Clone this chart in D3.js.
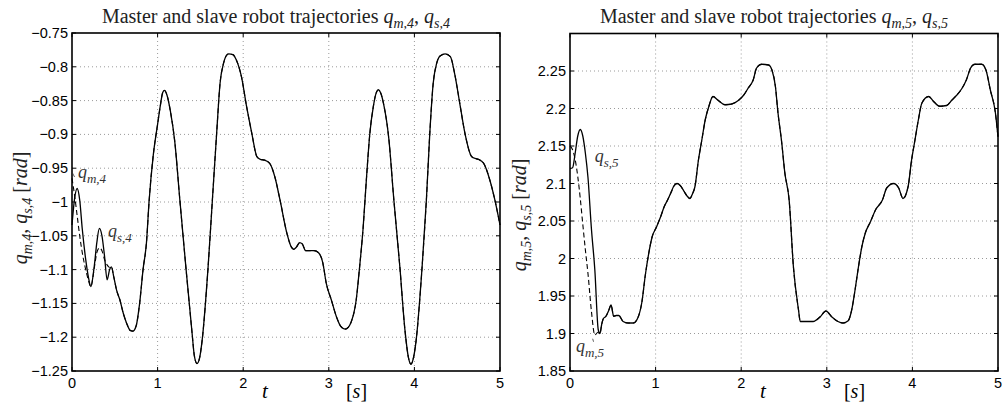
<!DOCTYPE html>
<html>
<head>
<meta charset="utf-8">
<script src="https://cdn.jsdelivr.net/npm/d3@7"></script>
<style>
body{margin:0;background:#fff;}
svg{display:block;}
</style>
</head>
<body>
<svg id="chart" width="1004" height="403"></svg>
<script>
// Joint 4: time [s], slave (solid) and master (dashed) trajectories [rad]
var t4 = [0,0.03,0.06,0.09,0.12,0.16,0.19,0.22,0.26,0.29,0.32,0.35,0.38,0.41,0.44,0.46,0.49,0.52,0.56,0.60,
  0.64,0.68,0.71,0.75,0.79,0.83,0.87,0.90,0.95,1.00,1.03,1.06,1.08,1.11,1.15,1.20,1.26,1.33,1.40,1.43,1.46,
  1.49,1.52,1.59,1.64,1.69,1.73,1.77,1.80,1.83,1.88,1.92,1.98,2.04,2.10,2.16,2.20,2.25,2.31,2.37,2.43,
  2.51,2.56,2.59,2.62,2.66,2.69,2.73,2.78,2.83,2.88,2.93,2.97,3.03,3.09,3.14,3.19,3.23,3.26,3.32,3.36,
  3.40,3.44,3.48,3.52,3.55,3.58,3.61,3.64,3.70,3.76,3.83,3.89,3.93,3.96,3.99,4.02,4.09,4.14,4.18,4.22,
  4.26,4.30,4.36,4.42,4.47,4.53,4.59,4.67,4.72,4.75,4.81,4.88,4.94,5.00];
var qs4 = [-1.034,-0.995,-0.980,-0.997,-1.040,-1.085,-1.110,-1.125,-1.095,-1.060,-1.039,-1.050,-1.080,-1.115,-1.100,-1.096,-1.112,-1.130,-1.145,-1.165,
  -1.180,-1.190,-1.191,-1.183,-1.150,-1.100,-1.060,-1.000,-0.930,-0.885,-0.859,-0.838,-0.835,-0.842,-0.866,-0.910,-0.997,-1.096,-1.190,-1.228,-1.239,
  -1.231,-1.205,-1.096,-0.997,-0.898,-0.824,-0.795,-0.784,-0.781,-0.782,-0.790,-0.815,-0.859,-0.898,-0.933,-0.937,-0.938,-0.943,-0.963,-0.997,
  -1.046,-1.066,-1.070,-1.067,-1.060,-1.062,-1.072,-1.072,-1.072,-1.075,-1.090,-1.120,-1.145,-1.170,-1.184,-1.188,-1.185,-1.178,-1.145,-1.096,
  -1.040,-0.965,-0.898,-0.859,-0.840,-0.834,-0.840,-0.855,-0.905,-0.997,-1.096,-1.190,-1.230,-1.240,-1.230,-1.205,-1.096,-0.997,-0.898,-0.824,
  -0.795,-0.784,-0.781,-0.785,-0.810,-0.854,-0.898,-0.933,-0.936,-0.937,-0.943,-0.967,-0.997,-1.034];
var qm4 = [-0.965,-0.990,-1.020,-1.050,-1.075,-1.100,-1.115,-1.125,-1.098,-1.075,-1.068,-1.072,-1.085,-1.093,-1.097,-1.096,-1.112,-1.130,-1.145,-1.165,
  -1.180,-1.190,-1.191,-1.183,-1.150,-1.100,-1.060,-1.000,-0.930,-0.885,-0.859,-0.838,-0.835,-0.842,-0.866,-0.910,-0.997,-1.096,-1.190,-1.228,-1.239,
  -1.231,-1.205,-1.096,-0.997,-0.898,-0.824,-0.795,-0.784,-0.781,-0.782,-0.790,-0.815,-0.859,-0.898,-0.933,-0.937,-0.938,-0.943,-0.963,-0.997,
  -1.046,-1.066,-1.070,-1.067,-1.060,-1.062,-1.072,-1.072,-1.072,-1.075,-1.090,-1.120,-1.145,-1.170,-1.184,-1.188,-1.185,-1.178,-1.145,-1.096,
  -1.040,-0.965,-0.898,-0.859,-0.840,-0.834,-0.840,-0.855,-0.905,-0.997,-1.096,-1.190,-1.230,-1.240,-1.230,-1.205,-1.096,-0.997,-0.898,-0.824,
  -0.795,-0.784,-0.781,-0.785,-0.810,-0.854,-0.898,-0.933,-0.936,-0.937,-0.943,-0.967,-0.997,-1.034];

// Joint 5
var t5 = [0,0.03,0.06,0.09,0.12,0.15,0.18,0.21,0.25,0.29,0.33,0.35,0.37,0.39,0.42,0.45,0.48,0.51,0.54,0.57,
  0.62,0.68,0.74,0.80,0.84,0.88,0.92,0.96,1.01,1.06,1.10,1.14,1.18,1.21,1.25,1.29,1.33,1.37,1.40,1.43,
  1.46,1.50,1.54,1.58,1.62,1.67,1.73,1.81,1.89,1.97,2.03,2.08,2.14,2.18,2.24,2.32,2.36,2.40,2.43,2.47,
  2.51,2.56,2.61,2.67,2.69,2.76,2.84,2.92,2.99,3.06,3.13,3.19,3.25,3.29,3.33,3.37,3.41,3.45,3.51,3.57,
  3.65,3.70,3.78,3.84,3.89,3.95,3.99,4.03,4.07,4.11,4.19,4.25,4.32,4.40,4.46,4.52,4.58,4.63,4.68,4.73,
  4.81,4.86,4.91,4.97,5.00];
var qs5 = [2.120,2.121,2.140,2.163,2.172,2.163,2.140,2.108,2.040,1.985,1.905,1.900,1.912,1.920,1.923,1.930,1.938,1.923,1.924,1.924,
  1.916,1.914,1.914,1.923,1.942,1.978,2.007,2.029,2.042,2.056,2.069,2.078,2.088,2.096,2.100,2.097,2.090,2.083,2.080,2.086,
  2.096,2.131,2.158,2.185,2.202,2.216,2.211,2.205,2.206,2.211,2.218,2.227,2.238,2.254,2.259,2.258,2.251,2.229,2.194,2.158,
  2.114,2.078,1.989,1.931,1.916,1.916,1.916,1.922,1.930,1.922,1.916,1.914,1.917,1.931,1.958,1.989,2.016,2.034,2.049,2.065,
  2.078,2.094,2.100,2.094,2.080,2.096,2.131,2.158,2.185,2.207,2.216,2.209,2.203,2.204,2.211,2.218,2.227,2.238,2.254,2.259,
  2.259,2.251,2.225,2.194,2.162];
var qm5 = [2.150,2.145,2.132,2.110,2.080,2.045,2.011,1.980,1.930,1.898,1.902,1.900,1.912,1.920,1.923,1.930,1.938,1.923,1.924,1.924,
  1.916,1.914,1.914,1.923,1.942,1.978,2.007,2.029,2.042,2.056,2.069,2.078,2.088,2.096,2.100,2.097,2.090,2.083,2.080,2.086,
  2.096,2.131,2.158,2.185,2.202,2.216,2.211,2.205,2.206,2.211,2.218,2.227,2.238,2.254,2.259,2.258,2.251,2.229,2.194,2.158,
  2.114,2.078,1.989,1.931,1.916,1.916,1.916,1.922,1.930,1.922,1.916,1.914,1.917,1.931,1.958,1.989,2.016,2.034,2.049,2.065,
  2.078,2.094,2.100,2.094,2.080,2.096,2.131,2.158,2.185,2.207,2.216,2.209,2.203,2.204,2.211,2.218,2.227,2.238,2.254,2.259,
  2.259,2.251,2.225,2.194,2.162];

var xTicks = [0, 1, 2, 3, 4, 5];
var yTicks4 = [-1.25, -1.2, -1.15, -1.1, -1.05, -1, -0.95, -0.9, -0.85, -0.8, -0.75];
var yTicks5 = [1.85, 1.9, 1.95, 2, 2.05, 2.1, 2.15, 2.2, 2.25];

var svg = d3.select('#chart');
var serif = '"Liberation Serif", "DejaVu Serif", serif';
var sans = '"Liberation Sans", Arial, sans-serif';

function fmt(v){ return String(v).replace('-', '\u2212'); }

// writes pieces of text, some italic, some lowered as subscripts
function mathText(sel, parts, size){
    var sub = Math.round(size*0.7);
    var shift = Math.round(size*0.25);
    var back = 0;
    parts.forEach(function(p){
        var ts = sel.append('tspan').text(p.s);
        if(p.i) ts.style('font-style', 'italic');
        if(p.sub){
            ts.attr('dy', shift - back).style('font-size', sub + 'px');
            back = shift;
        } else {
            if(back) ts.attr('dy', -back);
            back = 0;
        }
    });
}

function drawPanel(cfg){
    var x = d3.scaleLinear().domain([0, 5]).range([cfg.left, cfg.right]);
    var y = d3.scaleLinear().domain(cfg.yDomain).range([cfg.bottom, cfg.top]);
    var g = svg.append('g');

    // grid
    g.selectAll('.gx').data(xTicks.slice(1, -1)).enter().append('line')
        .attr('x1', function(d){return x(d);}).attr('x2', function(d){return x(d);})
        .attr('y1', cfg.top).attr('y2', cfg.bottom)
        .style('stroke', '#9a9a9a').style('stroke-width', 1).style('stroke-dasharray', '1,3');
    g.selectAll('.gy').data(cfg.yTicks.filter(function(d){return y(d) > cfg.top + 1 && y(d) < cfg.bottom - 1;}))
        .enter().append('line')
        .attr('x1', cfg.left).attr('x2', cfg.right)
        .attr('y1', function(d){return y(d);}).attr('y2', function(d){return y(d);})
        .style('stroke', '#9a9a9a').style('stroke-width', 1).style('stroke-dasharray', '1,3');

    var line = d3.line()
        .x(function(d){return x(d[0]);})
        .y(function(d){return y(d[1]);})
        .curve(d3.curveMonotoneX);

    g.append('path').attr('d', line(d3.zip(cfg.t, cfg.slave)))
        .attr('fill', 'none').attr('stroke', '#000').attr('stroke-width', 1.3);
    g.append('path').attr('d', line(d3.zip(cfg.t, cfg.master)))
        .attr('fill', 'none').attr('stroke', '#000').attr('stroke-width', 1.1)
        .attr('stroke-dasharray', '5,3');

    // box
    g.append('rect').attr('x', cfg.left).attr('y', cfg.top)
        .attr('width', cfg.right - cfg.left).attr('height', cfg.bottom - cfg.top)
        .attr('fill', 'none').attr('stroke', '#000').attr('stroke-width', 1.6);

    // inward ticks on all four sides
    xTicks.forEach(function(d){
        g.append('line').attr('x1', x(d)).attr('x2', x(d)).attr('y1', cfg.bottom).attr('y2', cfg.bottom - 4).attr('stroke', '#000');
        g.append('line').attr('x1', x(d)).attr('x2', x(d)).attr('y1', cfg.top).attr('y2', cfg.top + 4).attr('stroke', '#000');
        g.append('text').attr('x', x(d)).attr('y', cfg.bottom + 17)
            .attr('text-anchor', 'middle').style('font-family', sans).style('font-size', '14.5px').text(fmt(d));
    });
    cfg.yTicks.forEach(function(d){
        g.append('line').attr('x1', cfg.left).attr('x2', cfg.left + 4).attr('y1', y(d)).attr('y2', y(d)).attr('stroke', '#000');
        g.append('line').attr('x1', cfg.right).attr('x2', cfg.right - 4).attr('y1', y(d)).attr('y2', y(d)).attr('stroke', '#000');
        g.append('text').attr('x', cfg.left - 4).attr('y', y(d) + 5)
            .attr('text-anchor', 'end').style('font-family', sans).style('font-size', '14.5px').text(fmt(d));
    });

    // title
    var title = g.append('text').attr('x', (cfg.left + cfg.right)/2 - 10).attr('y', 23)
        .attr('text-anchor', 'middle').style('font-family', serif).style('font-size', '20px').attr('fill', '#222');
    mathText(title, [{s:'Master and slave robot trajectories '}, {s:'q', i:true}, {s:'m,' + cfg.j, sub:true, i:true},
        {s:', '}, {s:'q', i:true}, {s:'s,' + cfg.j, sub:true, i:true}], 20);

    // y label
    var yl = g.append('text').attr('transform', 'translate(' + cfg.ylabX + ',' + cfg.ylabY + ') rotate(-90)')
        .attr('text-anchor', 'middle').style('font-family', serif).style('font-size', '20px').attr('fill', '#222');
    mathText(yl, [{s:'q', i:true}, {s:'m,' + cfg.j, sub:true, i:true}, {s:', '}, {s:'q', i:true},
        {s:'s,' + cfg.j, sub:true, i:true}, {s:' ['}, {s:'rad', i:true}, {s:']'}], 20);

    // x label
    g.append('text').attr('x', x(2.22)).attr('y', 398).style('font-family', serif).style('font-size', '21px')
        .style('font-style', 'italic').text('t');
    var xs = g.append('text').attr('x', x(3.2)).attr('y', 398).style('font-family', serif).style('font-size', '20px');
    mathText(xs, [{s:'['}, {s:'s', i:true}, {s:']'}], 20);

    // curve labels
    cfg.notes.forEach(function(n){
        var tx = g.append('text').attr('x', x(n.t)).attr('y', y(n.v))
            .style('font-family', serif).style('font-size', '18px').attr('fill', '#333');
        mathText(tx, [{s:'q', i:true}, {s:n.sub, sub:true, i:true}], 18);
        if(n.mark){
            g.append('line').attr('x1', x(n.mark[0])).attr('y1', y(n.mark[1]))
                .attr('x2', x(n.mark[2])).attr('y2', y(n.mark[3])).attr('stroke', '#333').attr('stroke-width', 0.8);
        }
    });
}

drawPanel({left:72, right:500, top:33, bottom:371, yDomain:[-1.25, -0.75], yTicks:yTicks4,
    t:t4, slave:qs4, master:qm4, j:4, ylabX:27, ylabY:208,
    notes:[{t:0.07, v:-0.965, sub:'m,4', mark:[0.005, -0.957, 0.03, -0.963]}, {t:0.42, v:-1.052, sub:'s,4'}]});
drawPanel({left:570, right:998, top:33.5, bottom:371, yDomain:[1.85, 2.3], yTicks:yTicks5,
    t:t5, slave:qs5, master:qm5, j:5, ylabX:526, ylabY:215,
    notes:[{t:0.29, v:2.129, sub:'s,5'}, {t:0.07, v:1.876, sub:'m,5', mark:[0.265, 1.893, 0.275, 1.889]}]});
</script>
</body>
</html>
